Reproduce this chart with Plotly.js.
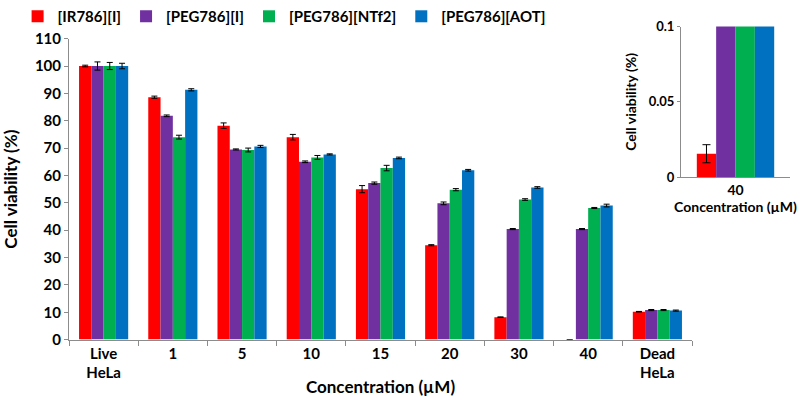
<!DOCTYPE html>
<html>
<head>
<meta charset="utf-8">
<script src="https://cdn.plot.ly/plotly-3.0.1.min.js"></script>
<style>
  html, body { margin: 0; padding: 0; background: #fff; }
  #chart { width: 800px; height: 400px; }
</style>
</head>
<body>
<div id="chart"></div>
<script>
// categories on the x axis
var concLabels = ["Live<br>HeLa", "1", "5", "10", "15", "20", "30", "40", "Dead<br>HeLa"];
var seriesNames = ["[IR786][I]", "[PEG786][I]", "[PEG786][NTf2]", "[PEG786][AOT]"];
var seriesColors = ["#ff0000", "#7030a0", "#00b050", "#0070c0"];

// cell viability (%) for each compound
var ir786I    = [100, 88.6, 78.2, 74.0, 55.0, 34.5, 8.2, 0.0155, 10.2];
var peg786I   = [100, 81.8, 69.5, 65.0, 57.2, 49.8, 40.4, 40.4, 10.8];
var peg786NTf2 = [100, 74.0, 69.3, 66.6, 62.7, 54.8, 51.2, 48.1, 10.8];
var peg786AOT = [100, 91.3, 70.6, 67.7, 66.4, 61.9, 55.6, 49.0, 10.6];

// standard deviations
var ir786IErr    = [0.3, 0.4, 1.0, 1.0, 1.3, 0.2, 0.1, 0.006, 0.1];
var peg786IErr   = [1.5, 0.3, 0.2, 0.3, 0.4, 0.5, 0.2, 0.2, 0.2];
var peg786NTf2Err = [1.3, 0.7, 0.7, 0.7, 1.0, 0.4, 0.3, 0.2, 0.2];
var peg786AOTErr = [1.0, 0.4, 0.4, 0.2, 0.3, 0.3, 0.3, 0.5, 0.2];

var allValues = [ir786I, peg786I, peg786NTf2, peg786AOT];
var allErrors = [ir786IErr, peg786IErr, peg786NTf2Err, peg786AOTErr];

var fontFamily = "Lato, 'Open Sans', sans-serif";
var axisGray = "#8c8c8c";

var traces = [];
// ----- main bars
for (let i = 0; i < 4; ++i) {
  traces.push({
    type: "bar",
    x: concLabels,
    y: allValues[i],
    name: seriesNames[i],
    marker: { color: seriesColors[i] },
    error_y: { type: "data", array: allErrors[i], visible: true, color: "#000", thickness: 1, width: 3 },
    xaxis: "x",
    yaxis: "y"
  });
}

// ----- inset: zoom on the 40 uM group
var insetIdx = concLabels.indexOf("40");
for (let i = 0; i < 4; ++i) {
  traces.push({
    type: "bar",
    x: ["40"],
    y: [allValues[i][insetIdx]],
    name: seriesNames[i],
    showlegend: false,
    marker: { color: seriesColors[i] },
    error_y: { type: "data", array: [allErrors[i][insetIdx]], visible: true, color: "#000", thickness: 1, width: 4 },
    xaxis: "x2",
    yaxis: "y2"
  });
}

var layout = {
  width: 800,
  height: 400,
  margin: { l: 0, r: 0, t: 0, b: 0 },
  paper_bgcolor: "#fff",
  plot_bgcolor: "#fff",
  barmode: "group",
  bargap: 0.29,
  bargroupgap: 0,
  font: { family: fontFamily, color: "#000", weight: "bold" },
  showlegend: true,
  legend: {
    orientation: "h",
    x: 0.022,
    xanchor: "left",
    y: 1.01,
    yanchor: "top",
    font: { size: 15, family: fontFamily, weight: "bold" },
    itemclick: false
  },
  xaxis: {
    type: "category",
    domain: [0.08625, 0.865],
    anchor: "y",
    showline: true,
    linecolor: axisGray,
    ticks: "outside",
    tickson: "boundaries",
    ticklen: 5,
    tickcolor: axisGray,
    tickfont: { size: 15, weight: "bold" },
    title: { text: "Concentration (\u00b5M)", font: { size: 17, weight: "bold" }, standoff: 0 },
    fixedrange: true
  },
  yaxis: {
    domain: [0.1525, 0.9125],
    anchor: "x",
    range: [0, 110],
    dtick: 10,
    showgrid: false,
    zeroline: false,
    showline: true,
    linecolor: axisGray,
    ticks: "outside",
    ticklen: 4,
    tickcolor: axisGray,
    tickfont: { size: 15, weight: "bold" },
    title: { text: "Cell viability (%)", font: { size: 17, weight: "bold" }, standoff: 12 },
    fixedrange: true
  },
  xaxis2: {
    type: "category",
    domain: [0.85125, 0.9875],
    anchor: "y2",
    showline: true,
    linecolor: axisGray,
    ticks: "",
    tickfont: { size: 14, weight: "bold" },
    title: { text: "Concentration (\u00b5M)", font: { size: 14, weight: "bold" }, standoff: 0 },
    fixedrange: true
  },
  yaxis2: {
    domain: [0.563, 0.943],
    anchor: "x2",
    range: [0, 0.1],
    tickvals: [0, 0.05, 0.1],
    showgrid: false,
    zeroline: false,
    showline: true,
    linecolor: axisGray,
    ticks: "outside",
    ticklen: 3,
    tickcolor: axisGray,
    tickfont: { size: 13, weight: "bold" },
    title: { text: "Cell viability (%)", font: { size: 14, weight: "bold" }, standoff: 8 },
    fixedrange: true
  }
};

var config = { displayModeBar: false, staticPlot: true };

Plotly.newPlot("chart", traces, layout, config);
</script>
</body>
</html>
